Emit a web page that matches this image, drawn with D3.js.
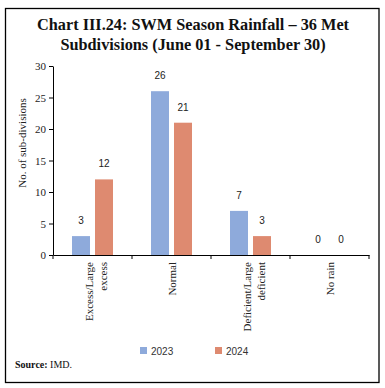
<!DOCTYPE html>
<html>
<head>
<meta charset="utf-8">
<script src="https://cdn.jsdelivr.net/npm/d3@7"></script>
<style>
  body { margin: 0; background: #fff; }
  svg { display: block; }
</style>
</head>
<body>
<div id="chart"></div>
<script>
// chart data
var categories = [["Excess/Large", "excess"], ["Normal"], ["Deficient/Large", "deficient"], ["No rain"]];
var years = ["2023", "2024"];
var values2023 = [3, 26, 7, 0];
var values2024 = [12, 21, 3, 0];
var yTicks = [0, 5, 10, 15, 20, 25, 30];
var colors = ["#8eaadb", "#de8a70"];

var width = 385;
var height = 388;
var serif = "'Liberation Serif', 'DejaVu Serif', serif";
var sans = "'Liberation Sans', Arial, sans-serif";

var svg = d3.select("#chart")
    .append("svg")
    .attr("width", width)
    .attr("height", height);

// outer frame
svg.append("rect")
    .attr("x", 5.5)
    .attr("y", 8.5)
    .attr("width", 373.5)
    .attr("height", 374)
    .attr("fill", "none")
    .attr("stroke", "#000")
    .attr("stroke-width", 1.3);

// title
var title = svg.append("text")
    .attr("text-anchor", "middle")
    .attr("font-family", serif)
    .attr("font-weight", "bold")
    .attr("font-size", "16.3px")
    .attr("fill", "#111");
title.append("tspan").attr("x", 193).attr("y", 30).text("Chart III.24: SWM Season Rainfall \u2013 36 Met");
title.append("tspan").attr("x", 193).attr("y", 50).text("Subdivisions (June 01 - September 30)");

var plot = { left: 53, right: 369, top: 66, bottom: 255 };
var keys = categories.map(function(d) { return d.join(" "); });

var x = d3.scaleBand()
    .domain(keys)
    .range([plot.left, plot.right])
    .padding(0);

var xSub = d3.scaleBand()
    .domain(years)
    .range([0, x.bandwidth()])
    .paddingInner(0.217)
    .paddingOuter(0.826);

var y = d3.scaleLinear()
    .domain([0, 30])
    .range([plot.bottom, plot.top]);

// y axis
var yAxis = svg.append("g")
    .attr("transform", "translate(" + plot.left + ",0)")
    .call(d3.axisLeft(y).tickValues(yTicks).tickSize(4).tickSizeOuter(0).tickPadding(3));
yAxis.selectAll("text")
    .attr("font-family", serif)
    .attr("font-size", "11px")
    .attr("fill", "#222");
yAxis.selectAll("line, path").attr("stroke", "#000");

// x axis (ticks sit on category boundaries)
var xAxis = svg.append("g")
    .attr("transform", "translate(0," + plot.bottom + ")")
    .call(d3.axisBottom(x).tickSize(0).tickFormat(""));
xAxis.select("path.domain").attr("stroke", "#000");
var bounds = keys.map(function(k) { return x(k); }).concat([x(keys[keys.length - 1]) + x.bandwidth()]);
xAxis.selectAll(".bound")
    .data(bounds)
    .enter()
    .append("line")
    .attr("class", "bound")
    .attr("x1", function(d) { return d; })
    .attr("x2", function(d) { return d; })
    .attr("y1", 0)
    .attr("y2", 4)
    .attr("stroke", "#000");

// rotated category labels
categories.forEach(function(lines, i) {
    var cx = x(keys[i]) + x.bandwidth() / 2;
    var n = lines.length;
    lines.forEach(function(line, j) {
        var bx = cx + 4 + (j - (n - 1) / 2) * 14 + (n - 1) * 3.5;
        svg.append("text")
            .attr("transform", "translate(" + bx + "," + (plot.bottom + 7) + ") rotate(-90)")
            .attr("text-anchor", "end")
            .attr("font-family", serif)
            .attr("font-size", "11px")
            .attr("fill", "#222")
            .text(line);
    });
});

// y axis title
svg.append("text")
    .attr("transform", "translate(26,143) rotate(-90)")
    .attr("text-anchor", "middle")
    .attr("font-family", serif)
    .attr("font-size", "11px")
    .attr("fill", "#222")
    .text("No. of sub-divisions");

// bars
var series = [values2023, values2024];
var rows = [];
series.forEach(function(vals, s) {
    vals.forEach(function(v, i) {
        rows.push({ key: keys[i], year: years[s], value: v, color: colors[s] });
    });
});

svg.selectAll("rect.bar")
    .data(rows)
    .enter()
    .append("rect")
    .attr("class", "bar")
    .attr("x", function(d) { return x(d.key) + xSub(d.year); })
    .attr("y", function(d) { return y(d.value); })
    .attr("width", xSub.bandwidth())
    .attr("height", function(d) { return y(0) - y(d.value); })
    .attr("fill", function(d) { return d.color; });

// value labels
svg.selectAll(".bar-label")
    .data(rows)
    .enter()
    .append("text")
    .attr("class", "bar-label")
    .attr("x", function(d) { return x(d.key) + xSub(d.year) + xSub.bandwidth() / 2; })
    .attr("y", function(d) { return y(d.value) - 12; })
    .attr("text-anchor", "middle")
    .attr("font-family", sans)
    .attr("font-size", "10px")
    .attr("fill", "#222")
    .text(function(d) { return d.value; });

// legend
var legendX = [140, 215];
years.forEach(function(yr, i) {
    svg.append("rect")
        .attr("x", legendX[i])
        .attr("y", 347)
        .attr("width", 7)
        .attr("height", 7)
        .attr("fill", colors[i]);
    svg.append("text")
        .attr("x", legendX[i] + 11)
        .attr("y", 354.5)
        .attr("font-family", sans)
        .attr("font-size", "10px")
        .attr("fill", "#333")
        .text(yr);
});

// source note
var src = svg.append("text")
    .attr("x", 15)
    .attr("y", 368)
    .attr("font-family", serif)
    .attr("font-size", "10px")
    .attr("fill", "#111");
src.append("tspan").attr("font-weight", "bold").text("Source:");
src.append("tspan").text(" IMD.");
</script>
</body>
</html>
